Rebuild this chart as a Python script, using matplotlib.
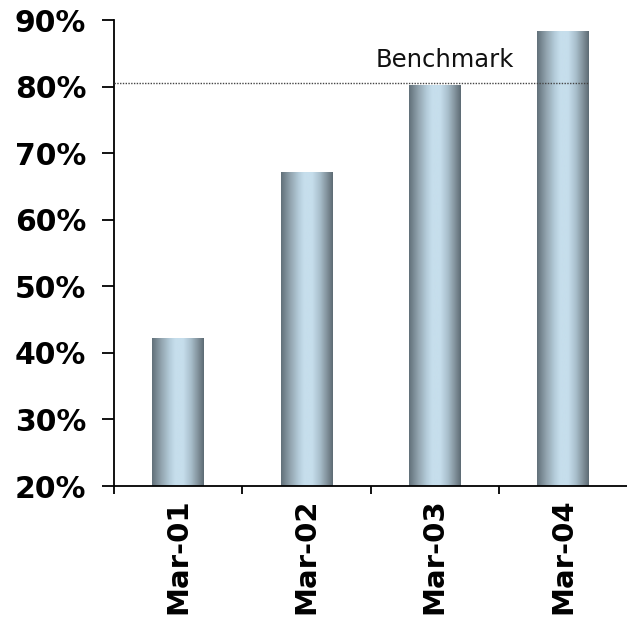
import numpy as np
import matplotlib
matplotlib.use("Agg")
import matplotlib.pyplot as plt
from matplotlib.colors import LinearSegmentedColormap
from matplotlib.ticker import FixedLocator, FuncFormatter

categories = ["Mar-01", "Mar-02", "Mar-03", "Mar-04"]
values = [42.3, 67.2, 80.2, 88.3]
benchmark = 80.6
benchmark_label = "Benchmark"
y_ticks = [20, 30, 40, 50, 60, 70, 80, 90]

fig = plt.figure(figsize=(6.27, 6.26), dpi=100)
ax = fig.add_axes([114 / 627, 140 / 626, 1 - 114 / 627, (486 - 20) / 626])

x = np.arange(len(categories))
width = 0.4
bars = ax.bar(x, values, width=width, color="none", edgecolor="none", zorder=2)

cmap = LinearSegmentedColormap.from_list(
    "cyl",
    [(0.0, "#617079"), (0.18, "#92a4af"), (0.35, "#b6cedc"), (0.45, "#c6deec"),
     (0.6, "#c6deec"), (0.75, "#a9bfcc"), (0.88, "#84949e"), (1.0, "#5d6b74")])
grad = np.linspace(0, 1, 256).reshape(1, -1)
for b in bars:
    im = ax.imshow(grad, cmap=cmap, aspect="auto",
                   extent=(b.get_x(), b.get_x() + b.get_width(), 20, b.get_height()),
                   zorder=2, interpolation="bilinear")
    im.set_clip_path(b)

ax.set_xlim(-0.5, len(categories) - 0.5)
ax.set_ylim(20, 90)

ax.hlines(benchmark, -0.5, x[-1] + width / 2, colors="#444444",
          linestyles=(0, (1, 1)), linewidth=1.0, zorder=3)
ax.text(2.08, benchmark + 2.3, benchmark_label, ha="center", va="baseline",
        fontsize=17.5, family="DejaVu Sans", color="#111111")

for s in ["top", "right"]:
    ax.spines[s].set_visible(False)
for s in ["left", "bottom"]:
    ax.spines[s].set_linewidth(1.3)

ax.yaxis.set_major_locator(FixedLocator(y_ticks))
ax.yaxis.set_major_formatter(FuncFormatter(lambda v, p: f"{int(v)}%"))
ax.tick_params(axis="y", direction="out", length=9, width=1.3, pad=11,
               labelsize=21.5)
for lab in ax.get_yticklabels():
    lab.set_fontweight("bold")

ax.set_xticks(x)
ax.set_xticklabels(categories, rotation=90, fontsize=21, fontweight="bold")
ax.tick_params(axis="x", which="major", length=0, pad=9)
ax.set_xticks(np.arange(len(categories)) - 0.5, minor=True)
ax.tick_params(axis="x", which="minor", direction="out", length=6, width=1.3)

fig.savefig("out.png", dpi=100)
